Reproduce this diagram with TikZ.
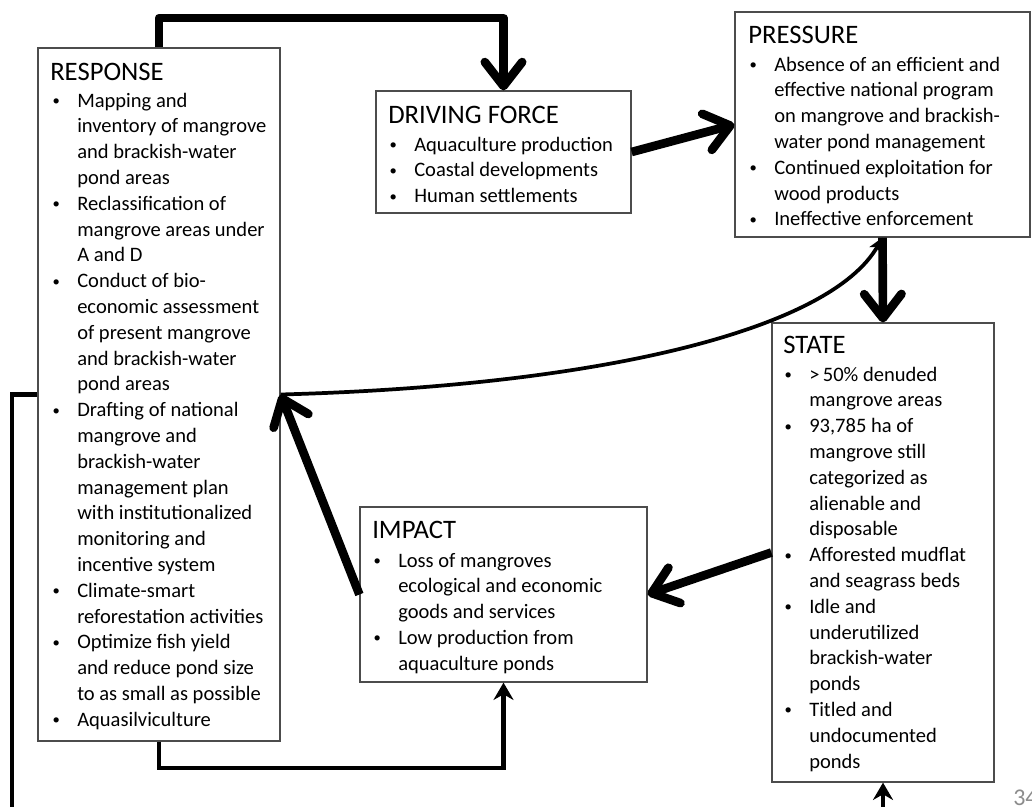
\documentclass[tikz,border=0pt]{standalone}
\usepackage{fontspec}
\setmainfont{Carlito}
\usepackage{xcolor}
\usepackage{tikz}
\usetikzlibrary{arrows.meta,fit}

\newcommand{\bl}{\leavevmode\llap{\makebox[18.5pt][l]{\raisebox{1.2pt}{\fontsize{11}{11}\selectfont\textbullet}}}}
\newcommand{\bloque}[1]{\parbox[t]{250pt}{\raggedright #1}}

\begin{document}
\begin{tikzpicture}[x=0.75pt, y=-0.75pt]
      % Estilos
      \tikzstyle{caja}=[draw=black!70, line width=0.9pt, inner sep=0pt]
      \tikzstyle{titulo}=[anchor=base west, inner sep=0pt, font=\fontsize{20}{24}\selectfont]
      \tikzstyle{lista}=[anchor=base west, inner sep=0pt, font=\fontsize{15.4}{19.35}\selectfont]
      \tikzstyle{grueso}=[line width=6.5pt, line join=round, -{Straight Barb[round, length=18pt, width=28pt]}]
      \tikzstyle{fino}=[line width=3.3pt, -{Stealth[length=13pt, width=15pt]}]
      \tikzstyle{curva}=[line width=2.8pt, -{Stealth[length=11pt, width=10pt, inset=3pt]}]

      \useasboundingbox (0,0) rectangle (1032,807);
      \clip (0,0) rectangle (1032,807);

      % Cajas
      \node[caja, fit={(38,48) (280,741)}] (response) {};
      \node[caja, fit={(376,91) (631,213)}] (driving) {};
      \node[caja, fit={(735,12) (1030,237)}] (pressure) {};
      \node[caja, fit={(772,323) (994,782)}] (state) {};
      \node[caja, fit={(360,507) (647,682)}] (impact) {};

      % Textos
      \node[titulo] (responsehd) at (50,80) {RESPONSE};
      \node[lista] (responsetx) at (77,107) {\bloque{\bl Mapping and\\ inventory of mangrove\\ and brackish-water\\ pond areas\\
        \bl Reclassification of\\ mangrove areas under\\ A and D\\
        \bl Conduct of bio-\\ economic assessment\\ of present mangrove\\ and brackish-water\\ pond areas\\
        \bl Drafting of national\\ mangrove and\\ brackish-water\\ management plan\\ with institutionalized\\ monitoring and\\ incentive system\\
        \bl Climate-smart\\ reforestation activities\\
        \bl Optimize fish yield\\ and reduce pond size\\ to as small as possible\\
        \bl Aquasilviculture}};

      \node[titulo] (drivinghd) at (388,123) {DRIVING FORCE};
      \node[lista] (drivingtx) at (414,151) {\bloque{\bl Aquaculture production\\ \bl Coastal developments\\ \bl Human settlements}};

      \node[titulo] (pressurehd) at (748,43) {PRESSURE};
      \node[lista] (pressuretx) at (774,71) {\bloque{\bl Absence of an efficient and\\ effective national program\\ on mangrove and brackish-\\ water pond management\\
        \bl Continued exploitation for\\ wood products\\
        \bl Ineffective enforcement}};

      \node[titulo] (statehd) at (783,353) {STATE};
      \node[lista] (statetx) at (809,381) {\bloque{\bl >\,50\% denuded\\ mangrove areas\\
        \bl 93,785 ha of\\ mangrove still\\ categorized as\\ alienable and\\ disposable\\
        \bl Afforested mudflat\\ and seagrass beds\\
        \bl Idle and\\ underutilized\\ brackish-water\\ ponds\\
        \bl Titled and\\ undocumented\\ ponds}};

      \node[titulo] (impacthd) at (372,538) {IMPACT};
      \node[lista] (impacttx) at (398,567) {\bloque{\bl Loss of mangroves\\ ecological and economic\\ goods and services\\
        \bl Low production from\\ aquaculture ponds}};

      \node[anchor=base west, inner sep=0pt, text=black!45, font=\fontsize{18}{20}\selectfont] (pagina) at (1013,805) {34};

      % Conexiones
      \coordinate (arriba) at (503.5,18);
      \coordinate (abajo) at (503.5,768);
      \coordinate (izq) at (12,840);
      \draw[grueso] (response.north) |- (arriba) -- (driving.north);
      \draw[grueso] (driving.east) -- (pressure.west);
      \draw[grueso] (pressure.south) -- (state.north);
      \draw[grueso] (state.west) -- (impact.east);
      \draw[grueso] (impact.west) -- (response.east);
      \draw[fino] (response.south) |- (abajo) -- (impact.south);
      \draw[fino] (response.west) -| (izq) -| (state.south);
      \draw[curva] (response.east) .. controls (600,386) and (830,330) .. (pressure.south);
    \end{tikzpicture}
\end{document}
